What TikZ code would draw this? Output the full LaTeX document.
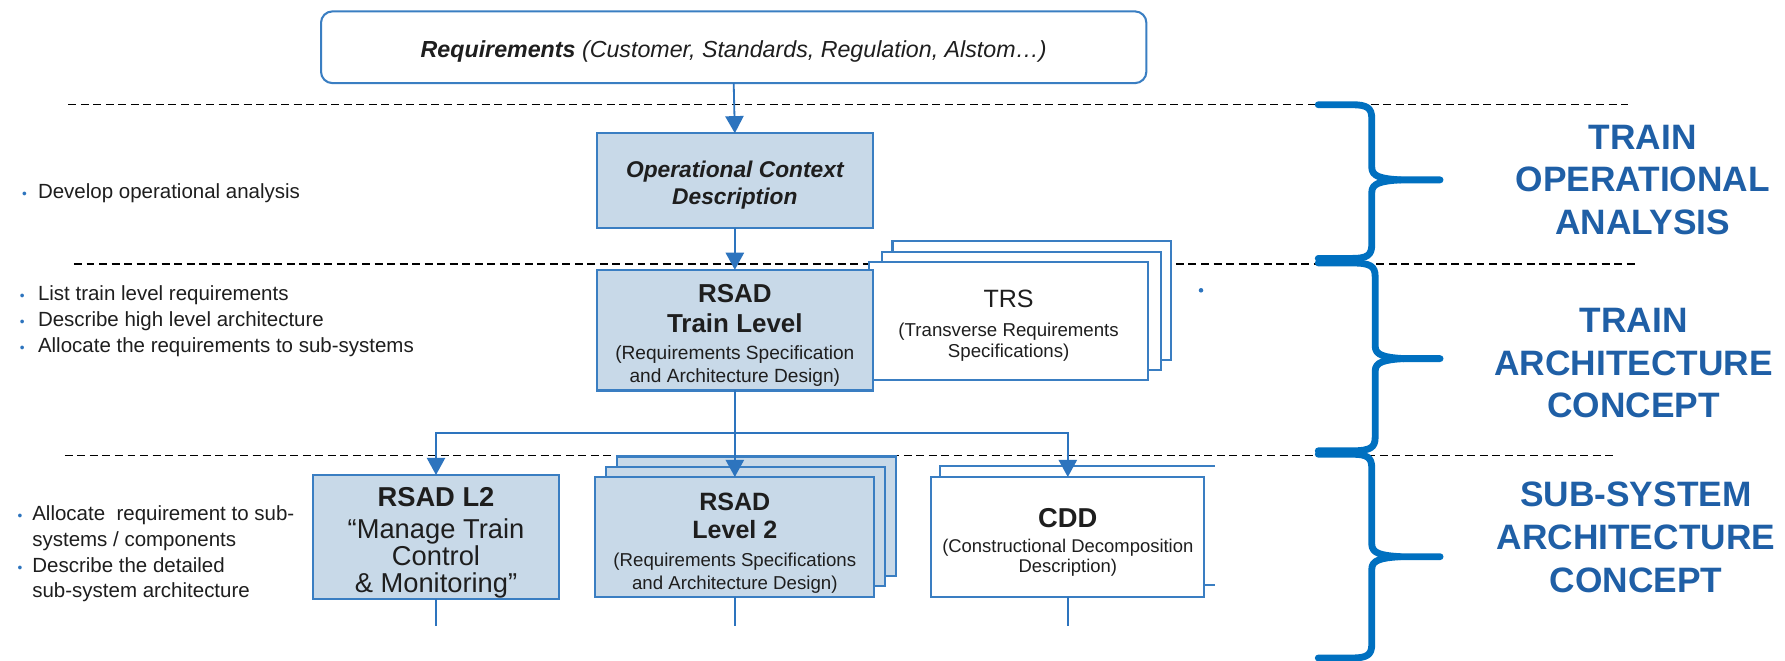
\documentclass[tikz,border=0pt]{standalone}
\usepackage{fontspec}
\setmainfont{Liberation Sans}
\usetikzlibrary{arrows.meta}
\definecolor{boxblue}{HTML}{3A7EC2}
\definecolor{boxfill}{HTML}{C8D9E8}
\definecolor{linkblue}{HTML}{2D74BE}
\definecolor{bracecol}{HTML}{0070C0}
\definecolor{titleblue}{HTML}{1F5FA6}
\definecolor{txt}{HTML}{1E1E1E}
\newcommand\fsz[2]{\fontsize{#1}{#2}\selectfont}
\newcommand\tp[1]{\rule{0pt}{#1}}
\newcommand\blt[1]{\makebox[#1][l]{\textcolor{linkblue}{\fontsize{6}{6}\selectfont\textbullet}}}
\newcommand\mybrace[4]{% #1 top, #2 tip, #3 bottom, #4 spine x
  \draw[bracestyle] (1158,#1) -- (1188,#1) .. controls ({#4-4},#1) and (#4,{#1+3}) .. (#4,{#1+12}) -- (#4,{#2-11}) .. controls (#4,{#2-3}) and ({#4+8},{#2-1}) .. ({#4+25},#2) -- (1265,#2);
  \draw[bracestyle] ({#4+25},#2) .. controls ({#4+8},{#2+1}) and (#4,{#2+3}) .. (#4,{#2+11}) -- (#4,{#3-12}) .. controls (#4,{#3-3}) and ({#4-4},#3) .. (1188,#3) -- (1158,#3);
}
\begin{document}
\begin{tikzpicture}[x=0.5pt,y=-0.5pt,
  bluebox/.style={draw=boxblue, line width=0.9pt, fill=boxfill, inner sep=0pt, outer sep=0pt, align=center, text=txt},
  wbox/.style={bluebox, fill=white},
  conn/.style={draw=linkblue, line width=0.8pt, -{Triangle[length=7.5pt,width=8pt]}},
  wire/.style={draw=linkblue, line width=0.8pt},
  sepline/.style={draw=black, line width=0.6pt, dash pattern=on 3.5pt off 2pt},
  bracestyle/.style={draw=bracecol, line width=3pt, line cap=round, line join=round},
  sect/.style={text=titleblue, font=\fsz{15.5}{18.75}\bfseries, align=center, inner sep=0pt},
  lst/.style={align=left, text=txt, inner sep=0pt, font=\fsz{9}{11.3}}]
\useasboundingbox (0,0) rectangle (1568,580);
\fill[white] (0,0) rectangle (1568,580);

% separators
\coordinate (d1a) at (60,92);  \coordinate (d1b) at (1430,92);
\coordinate (d2a) at (65,232); \coordinate (d2b) at (1437,232);
\coordinate (d3a) at (57,400); \coordinate (d3b) at (1420,400);
\draw[sepline] (d1a) -- (d1b);
\draw[sepline] (d2a) -- (d2b);
\draw[sepline] (d3a) -- (d3b);

% top box
\node[wbox, rounded corners=5pt, minimum width=362.5pt, minimum height=31.5pt, font=\fsz{10.2}{12}\itshape] (req) at (644.5,41.5) {\tp{11.4pt}\textbf{Requirements} (Customer, Standards, Regulation, Alstom…)};

\node[bluebox, minimum width=121.5pt, minimum height=41.5pt, font=\fsz{10}{12}\bfseries\itshape] (opc) at (645.5,158.5) {\tp{11.2pt}Operational Context\\Description};

% TRS stack
\node[wbox, minimum width=122.5pt, minimum height=52pt] (trs3) at (906.5,264) {};
\node[wbox, minimum width=122.5pt, minimum height=52pt] (trs2) at (897,273) {};
\node[wbox, minimum width=122.5pt, minimum height=52pt, font=\fsz{8.2}{9.5}] (trs) at (886,282) {{\fsz{11}{9.5}\tp{12pt}TRS}\\[3pt](Transverse Requirements\\Specifications)};

\node[bluebox, minimum width=121.5pt, minimum height=53pt, font=\fsz{8.4}{10}] (rsad) at (645.5,290) {{\fsz{11.4}{10}\bfseries\tp{12.4pt}RSAD}\\[3pt]{\fsz{11.4}{10}\bfseries Train Level}\\[2pt](Requirements Specification\\and Architecture Design)};

\fill[linkblue] (1055,255) circle (1pt);

% level 2 boxes
\node[bluebox, minimum width=108pt, minimum height=52.5pt, font=\fsz{12}{12}] (l2) at (383,471.5) {\tp{13.8pt}\textbf{RSAD L2}\\[2pt]“Manage Train\\Control\\\& Monitoring”};

\node[bluebox, minimum width=122.5pt, minimum height=52.5pt] (lv2c) at (664.5,453.5) {};
\node[bluebox, minimum width=122.5pt, minimum height=52.5pt] (lv2b) at (655,462.5) {};
\node[bluebox, minimum width=122.5pt, minimum height=52.5pt, font=\fsz{8.2}{10.5}] (lv2) at (645.5,471.5) {{\fsz{11}{10.5}\bfseries\tp{13.4pt}RSAD}\\[2pt]{\fsz{11}{10.5}\bfseries Level 2}\\[1.5pt](Requirements Specifications\\and Architecture Design)};

\draw[draw=boxblue, line width=0.9pt] (826,419) -- (826,409) -- (1067,409);
\draw[draw=boxblue, line width=0.9pt] (1058,514) -- (1067,514);
\node[wbox, minimum width=120pt, minimum height=52.5pt, font=\fsz{8.1}{8.5}] (cdd) at (938,471.5) {{\fsz{12}{8.5}\bfseries\tp{13.2pt}CDD}\\[2.5pt](Constructional Decomposition\\Description)};

% connectors
\draw[conn] (req.south) -- (opc.north);
\draw[conn] (opc.south) -- (rsad.north);
\coordinate (split) at (645.5,380);
\draw[wire] (rsad.south) -- (split);
\draw[conn] (split) -| (l2.north);
\draw[conn] (split) -- (lv2.north);
\draw[conn] (split) -| (cdd.north);
\coordinate (l2end) at (383,550);
\coordinate (lv2end) at (645.5,550);
\coordinate (cddend) at (938,550);
\draw[wire] (l2.south) -- (l2end);
\draw[wire] (lv2.south) -- (lv2end);
\draw[wire] (cdd.south) -- (cddend);

% left texts
\node[lst, anchor=west] (t1) at (19,170) {\blt{7pt}Develop operational analysis};
\node[lst, anchor=west] (t2) at (17,282) {\blt{8pt}List train level requirements\\\blt{8pt}Describe high level architecture\\\blt{8pt}Allocate the requirements to sub-systems};
\node[lst, anchor=west] (t3) at (15,486.5) {\blt{6.5pt}Allocate\ \ requirement to sub-\\\hspace*{6.5pt}systems / components\\\blt{6.5pt}Describe the detailed\\\hspace*{6.5pt}sub-system architecture};

% braces
\mybrace{92}{158}{227}{1205}
\mybrace{231}{315}{396}{1208}
\mybrace{399}{489}{578}{1205}

% section titles
\node[sect] (s1) at (1443,158) {TRAIN\\OPERATIONAL\\ANALYSIS};
\node[sect] (s2) at (1435,319) {TRAIN\\ARCHITECTURE\\CONCEPT};
\node[sect] (s3) at (1437,472) {SUB-SYSTEM\\ARCHITECTURE\\CONCEPT};
\end{tikzpicture}
\end{document}
